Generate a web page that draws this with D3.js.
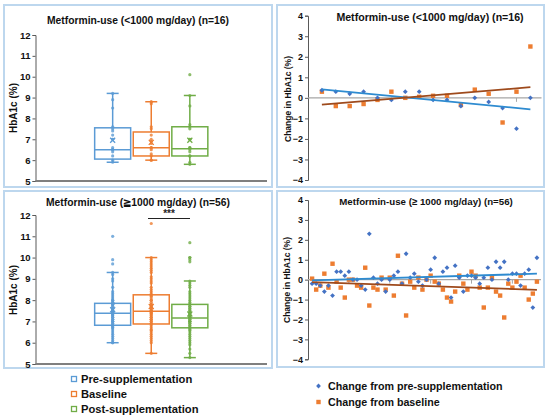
<!DOCTYPE html>
<html><head><meta charset="utf-8">
<script src="https://cdn.jsdelivr.net/npm/d3@7"></script>
<style>body{margin:0;background:#fff}svg{display:block;font-family:"Liberation Sans",Arial,sans-serif}</style>
</head><body><svg id="c" width="550" height="420"></svg>
<script>
// ---------- DATA ----------
const groups = ["Pre-supplementation", "Baseline", "Post-supplementation"];
const boxTicks = [5, 6, 7, 8, 9, 10, 11, 12];
const changeTicks = [-4, -3, -2, -1, 0, 1, 2, 3, 4];

// <1000 mg/day box stats [pre, baseline, post]
const lowMin = [5.9, 6.0, 5.8];
const lowQ1 = [6.05, 6.2, 6.2];
const lowMed = [6.5, 6.6, 6.55];
const lowQ3 = [7.55, 7.35, 7.6];
const lowMax = [9.2, 8.8, 9.1];
const lowMean = [6.95, 6.85, 6.95];
const lowPreVals = [5.9, 6.0, 6.2, 6.4, 6.5, 6.5, 6.6, 7.0, 7.0, 7.2, 7.4, 7.5, 7.6, 8.5, 8.9, 9.2];
const lowBaseVals = [6.0, 6.0, 6.2, 6.3, 6.5, 6.6, 6.6, 6.8, 6.9, 7.0, 7.2, 7.5, 7.6, 8.7, 8.8, 8.8];
const lowPostVals = [5.8, 5.9, 6.2, 6.2, 6.4, 6.5, 6.6, 6.6, 7.0, 7.0, 7.5, 7.6, 7.7, 8.6, 9.1, 10.1];

// >=1000 mg/day box stats [pre, baseline, post]
const highMin = [6.0, 5.5, 5.3];
const highQ1 = [6.82, 6.88, 6.7];
const highMed = [7.38, 7.48, 7.16];
const highQ3 = [7.85, 8.25, 7.8];
const highMax = [9.3, 10.0, 8.9];
const highMean = [7.55, 7.7, 7.35];
const highPreVals = [6.0, 6.0, 6.1, 6.2, 6.3, 6.4, 6.5, 6.6, 6.7, 6.7, 6.8, 6.8, 6.8, 6.9, 6.9, 7.0,
  7.0, 7.0, 7.1, 7.1, 7.2, 7.2, 7.3, 7.3, 7.3, 7.4, 7.4, 7.4, 7.4, 7.5, 7.5, 7.5, 7.6, 7.6, 7.6, 7.7,
  7.7, 7.8, 7.8, 7.8, 7.9, 7.9, 8.0, 8.0, 8.1, 8.2, 8.3, 8.4, 8.6, 8.9, 9.0, 9.2, 9.3, 9.7, 9.9, 11.0];
const highBaseVals = [5.5, 6.0, 6.2, 6.3, 6.4, 6.5, 6.6, 6.7, 6.8, 6.9, 6.9, 7.0, 7.0, 7.1, 7.1, 7.2,
  7.2, 7.3, 7.3, 7.4, 7.4, 7.5, 7.5, 7.5, 7.6, 7.6, 7.7, 7.7, 7.8, 7.9, 8.0, 8.0, 8.1, 8.2, 8.2, 8.3,
  8.4, 8.5, 8.6, 8.8, 9.0, 9.1, 9.3, 9.4, 9.5, 9.6, 9.7, 9.8, 9.9, 10.0, 6.1, 6.6, 7.4, 7.8, 8.9, 11.6];
const highPostVals = [5.3, 5.5, 5.7, 5.9, 6.0, 6.2, 6.3, 6.4, 6.5, 6.6, 6.7, 6.7, 6.8, 6.8, 6.9, 6.9,
  7.0, 7.0, 7.0, 7.1, 7.1, 7.2, 7.2, 7.2, 7.3, 7.3, 7.3, 7.4, 7.4, 7.5, 7.5, 7.6, 7.6, 7.7, 7.7, 7.8,
  7.8, 7.9, 8.0, 8.1, 8.2, 8.3, 8.4, 8.6, 8.7, 8.8, 8.9, 6.1, 6.6, 7.0, 7.4, 9.8, 9.9, 10.0, 10.0, 10.7];

// Change in HbA1c, <1000 mg/day (n=16), patients 1..16
const lowChangePre = [0.37, 0.3, 0.2, 0.3, 0.0, -0.1, 0.3, 0.3, -0.1, -0.1, -0.4, 0.0, -0.2, -0.5, -1.5, 0.0];
const lowChangeBase = [0.3, -0.4, -0.4, -0.3, -0.1, 0.3, 0.0, 0.05, 0.1, 0.1, -0.35, 0.4, 0.2, -1.2, 0.3, 2.5];

// Change in HbA1c, >=1000 mg/day (n=56), patients 1..56
const highChangePre = [-0.2, -0.2, -0.3, -0.6, -0.3, -0.8, 0.4, 0.4, 0.2, 0.4, 0.0, 0.0, -0.3, -0.5,
  2.3, 0.1, -0.2, 0.0, -0.6, 0.0, 0.2, 0.4, -0.2, 1.3, 0.1, 0.3, -0.1, -0.3, 0.0, 0.5, 1.1, -0.2,
  0.4, 0.6, -0.9, 0.7, 0.1, -0.6, 0.2, 0.2, 0.1, -0.2, 0.1, 0.6, 0.0, 0.9, 0.6, 0.9, 0.0, 0.3,
  0.3, -0.3, 0.3, 0.5, -1.4, 1.1];
const highChangeBase = [0.05, -0.5, -0.3, 0.3, -0.4, 0.8, -0.1, -0.4, -0.9, 0.0, 0.0, -0.3, -0.4, 0.6,
  -1.3, -0.4, -0.5, 0.1, -0.5, 0.1, -0.8, 1.2, -0.2, -1.8, -0.1, -0.4, 0.1, -0.5, 0.0, 0.2, -0.1,
  -0.2, -0.5, -0.9, -1.1, -0.6, 0.2, -0.2, -0.5, 0.4, 0.2, -0.4, -1.4, -0.4, 0.1, -0.6, -0.8, -1.9,
  -0.2, -0.4, -0.1, 0.2, -0.4, -1.0, -0.7, -0.1];

// ---------- STYLE ----------
const boxColors = ["#5B9BD5", "#ED7D31", "#70AD47"];
const preColor = "#4472C4", baseColor = "#ED7D31";
const preTrend = "#2E8BD0", baseTrend = "#9E4A1C";
const borderColor = "#BDD7EE";

const svg = d3.select("#c");

// panel frames
[[4, 5, 268, 182], [277, 5, 267, 182], [4, 191, 268, 177], [277, 191, 267, 176]].forEach(r => {
  svg.append("rect").attr("x", r[0]).attr("y", r[1]).attr("width", r[2]).attr("height", r[3])
    .attr("fill", "none").attr("stroke", borderColor).attr("stroke-width", 2);
});

function title(x, y, txt, size) {
  svg.append("text").attr("x", x).attr("y", y).attr("text-anchor", "middle")
    .attr("font-weight", "bold").attr("font-size", size).attr("fill", "#111").text(txt);
}
function ylabel(x, y, txt, size) {
  svg.append("text").attr("transform", `translate(${x},${y}) rotate(-90)`).attr("text-anchor", "middle")
    .attr("font-weight", "bold").attr("font-size", size).attr("fill", "#111").text(txt);
}
function yAxis(scale, x, ticks, size) {
  const g = svg.append("g").attr("transform", `translate(${x},0)`)
    .call(d3.axisLeft(scale).tickValues(ticks).tickSize(3).tickPadding(2).tickFormat(d3.format("d")));
  g.select(".domain").attr("stroke", "#595959");
  g.selectAll(".tick line").attr("stroke", "#595959");
  g.selectAll("text").attr("font-weight", "bold").attr("font-size", size).attr("fill", "#111")
    .attr("font-family", '"Liberation Sans",Arial,sans-serif');
  return g;
}

function boxPanel(top, bottom, stats, vals) {
  const y = d3.scaleLinear().domain([5, 12]).range([bottom, top]);
  const x = d3.scaleLinear().domain([0, 6]).range([35.5, 267]);
  yAxis(y, 35.5, boxTicks, 9.5);
  svg.append("line").attr("x1", 35.5).attr("x2", 267).attr("y1", y(5)).attr("y2", y(5))
    .attr("stroke", "#7F7F7F").attr("stroke-width", 2);
  const bw = 36, cw = 12;
  groups.forEach((gname, i) => {
    const cx = x(i + 2), c = boxColors[i];
    const g = svg.append("g");
    // whiskers
    g.append("line").attr("x1", cx).attr("x2", cx).attr("y1", y(stats.max[i])).attr("y2", y(stats.q3[i]))
      .attr("stroke", c).attr("stroke-width", 1.5);
    g.append("line").attr("x1", cx).attr("x2", cx).attr("y1", y(stats.q1[i])).attr("y2", y(stats.min[i]))
      .attr("stroke", c).attr("stroke-width", 1.5);
    [stats.max[i], stats.min[i]].forEach(v => {
      g.append("line").attr("x1", cx - cw / 2).attr("x2", cx + cw / 2).attr("y1", y(v)).attr("y2", y(v))
        .attr("stroke", c).attr("stroke-width", 1.5);
    });
    g.append("rect").attr("x", cx - bw / 2).attr("width", bw).attr("y", y(stats.q3[i]))
      .attr("height", y(stats.q1[i]) - y(stats.q3[i])).attr("fill", "none").attr("stroke", c).attr("stroke-width", 1.5);
    g.append("line").attr("x1", cx - bw / 2).attr("x2", cx + bw / 2).attr("y1", y(stats.med[i])).attr("y2", y(stats.med[i]))
      .attr("stroke", c).attr("stroke-width", 1.5);
    // points
    g.selectAll("circle").data(vals[i]).join("circle").attr("cx", cx).attr("cy", d => y(d)).attr("r", 1.6)
      .attr("fill", c).attr("opacity", 0.8);
    // mean marker
    const my = y(stats.mean[i]), s = 2.5;
    g.append("path").attr("d", `M${cx - s},${my - s}L${cx + s},${my + s}M${cx - s},${my + s}L${cx + s},${my - s}`)
      .attr("stroke", c).attr("stroke-width", 1.3);
  });
  return { x, y };
}

function regression(vals) {
  const xs = vals.map((v, i) => i + 1);
  const mx = d3.mean(xs), my = d3.mean(vals);
  const sxy = d3.sum(xs, (xv, i) => (xv - mx) * (vals[i] - my));
  const sxx = d3.sum(xs, xv => (xv - mx) * (xv - mx));
  const b = sxy / sxx;
  return xv => my + b * (xv - mx);
}

function scatterPanel(top, bottom, xmax, xright, pre, base, tickEvery) {
  const y = d3.scaleLinear().domain([-4, 4]).range([bottom, top]);
  const x = d3.scaleLinear().domain([0, xmax]).range([308, xright]);
  yAxis(y, 308, changeTicks, 9);
  svg.append("line").attr("x1", 308).attr("x2", xright).attr("y1", y(0)).attr("y2", y(0))
    .attr("stroke", "#A6A6A6").attr("stroke-width", 1.3);
  d3.range(tickEvery, pre.length + 1, tickEvery).forEach(t => {
    svg.append("line").attr("x1", x(t)).attr("x2", x(t)).attr("y1", y(0)).attr("y2", y(0) + 4)
      .attr("stroke", "#A6A6A6").attr("stroke-width", 1);
  });
  const n = pre.length;
  // base squares
  svg.append("g").selectAll("rect").data(base).join("rect")
    .attr("x", (d, i) => x(i + 1) - 2.2).attr("y", d => y(d) - 2.2).attr("width", 4.4).attr("height", 4.4)
    .attr("fill", baseColor);
  // pre diamonds
  svg.append("g").selectAll("path").data(pre).join("path")
    .attr("d", (d, i) => { const cx = x(i + 1), cy = y(d), s = 2.4; return `M${cx},${cy - s}L${cx + s},${cy}L${cx},${cy + s}L${cx - s},${cy}Z`; })
    .attr("fill", preColor);
  const rp = regression(pre), rb = regression(base);
  svg.append("line").attr("x1", x(1)).attr("x2", x(n)).attr("y1", y(rp(1))).attr("y2", y(rp(n)))
    .attr("stroke", preTrend).attr("stroke-width", 1.8);
  svg.append("line").attr("x1", x(1)).attr("x2", x(n)).attr("y1", y(rb(1))).attr("y2", y(rb(n)))
    .attr("stroke", baseTrend).attr("stroke-width", 1.8);
}

// top-left
title(138, 24, "Metformin-use (<1000 mg/day) (n=16)", 10.3);
ylabel(17, 108, "HbA1c (%)", 10);
boxPanel(35, 181, { min: lowMin, q1: lowQ1, med: lowMed, q3: lowQ3, max: lowMax, mean: lowMean },
  [lowPreVals, lowBaseVals, lowPostVals]);

// bottom-left
title(138, 206, "Metformin-use (\u22671000 mg/day) (n=56)", 10.3);
ylabel(17, 290, "HbA1c (%)", 10);
const bl = boxPanel(215, 364, { min: highMin, q1: highQ1, med: highMed, q3: highQ3, max: highMax, mean: highMean },
  [highPreVals, highBaseVals, highPostVals]);
svg.append("line").attr("x1", 148).attr("x2", 190).attr("y1", 218.5).attr("y2", 218.5).attr("stroke", "#222").attr("stroke-width", 1);
svg.append("text").attr("x", 169).attr("y", 217).attr("text-anchor", "middle").attr("font-size", 10)
  .attr("font-weight", "bold").attr("fill", "#222").text("***");

// top-right
title(430, 21, "Metformin-use (<1000 mg/day) (n=16)", 10.6);
ylabel(291, 99, "Change in HbA1c (%)", 8.5);
scatterPanel(15.7, 180, 16.8, 541.5, lowChangePre, lowChangeBase, 5);

// bottom-right
title(426, 205, "Metformin-use (\u2265 1000 mg/day) (n=56)", 9.7);
ylabel(290, 280, "Change in HbA1c (%)", 8.5);
scatterPanel(200, 359.3, 57, 541, highChangePre, highChangeBase, 10);

// left legend
groups.forEach((gname, i) => {
  const ly = 379 + i * 15;
  svg.append("rect").attr("x", 71.5).attr("y", ly - 2.5).attr("width", 5).attr("height", 5)
    .attr("fill", "none").attr("stroke", boxColors[i]).attr("stroke-width", 1.3);
  svg.append("text").attr("x", 81).attr("y", ly + 4).attr("font-size", 11.2).attr("font-weight", "bold")
    .attr("fill", "#111").text(gname);
});
// right legend
const rl = [["Change from pre-supplementation", preColor, "d"], ["Change from baseline", baseColor, "s"]];
rl.forEach((r, i) => {
  const ly = 386 + i * 16, cx = 318.5;
  if (r[2] === "d") svg.append("path").attr("d", `M${cx},${ly - 2.4}L${cx + 2.4},${ly}L${cx},${ly + 2.4}L${cx - 2.4},${ly}Z`).attr("fill", r[1]);
  else svg.append("rect").attr("x", cx - 2.2).attr("y", ly - 2.2).attr("width", 4.4).attr("height", 4.4).attr("fill", r[1]);
  svg.append("text").attr("x", 328).attr("y", ly + 4).attr("font-size", 10.7).attr("font-weight", "bold")
    .attr("fill", "#111").text(r[0]);
});
</script></body></html>
